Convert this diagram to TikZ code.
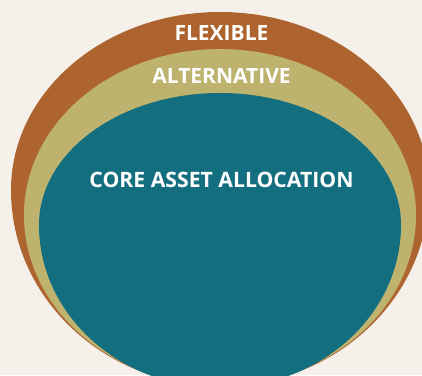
\documentclass[tikz,border=0pt]{standalone}
\usepackage{fontspec}
\setmainfont{Open Sans}
\definecolor{bgc}{HTML}{F5F0EA}
\definecolor{flexc}{HTML}{AD642E}
\definecolor{altc}{HTML}{BDB36E}
\definecolor{corec}{HTML}{136E80}
\tikzset{
  lbl/.style={text=white, font=\bfseries\fontsize{21}{21}\selectfont, anchor=base, inner sep=0pt},
}
\begin{document}
\begin{tikzpicture}[x=1pt,y=1pt]
\useasboundingbox (0,0) rectangle (422,375);
\fill[bgc] (0,0) rectangle (422,375);
\begin{scope}
\clip (0,0) rectangle (422,375);
% outer: flexible
\fill[flexc] (11,185) arc[start angle=180, end angle=0, x radius=209pt, y radius=178pt]
  arc[start angle=0, end angle=-180, x radius=209pt, y radius=196pt] -- cycle;
% middle: alternative
\fill[altc] (24,160) arc[start angle=180, end angle=0, x radius=196pt, y radius=166pt]
  arc[start angle=0, end angle=-180, x radius=196pt, y radius=170pt] -- cycle;
% inner: core
\fill[corec] (39,150) arc[start angle=180, end angle=0, x radius=181pt, y radius=132pt]
  arc[start angle=0, end angle=-180, x radius=181pt, y radius=163pt] -- cycle;
\end{scope}
\node[lbl] (flex) at (221.5,334.3) {FLEXIBLE};
\node[lbl] (alt) at (221.5,291.7) {ALTERNATIVE};
\node[lbl, font=\bfseries\fontsize{21.2}{21.2}\selectfont] (core) at (221.5,187) {CORE ASSET ALLOCATION};
\end{tikzpicture}
\end{document}
